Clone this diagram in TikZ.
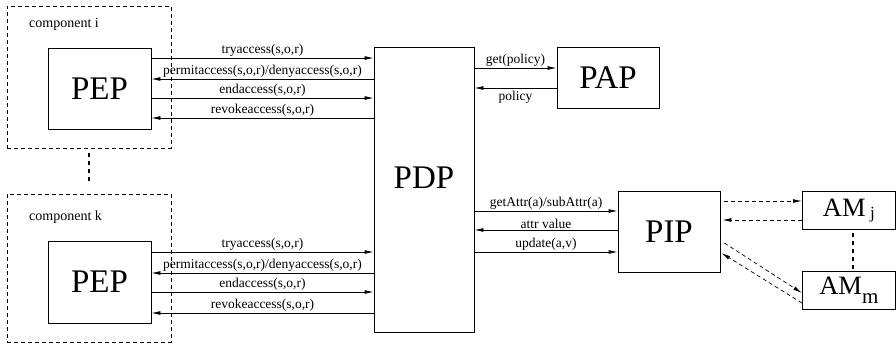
\documentclass[tikz,border=0pt]{standalone}
\usepackage{fontspec}
\setmainfont{Liberation Serif}
\usetikzlibrary{arrows.meta}
\begin{document}
\begin{tikzpicture}[x=1pt,y=-1pt,
  box/.style={draw,line width=0.7pt,inner sep=0pt,font=\fontsize{33}{33}\selectfont},
  comp/.style={draw,line width=0.7pt,dash pattern=on 4pt off 3pt,inner sep=0pt},
  msg/.style={line width=0.7pt,-{Latex[length=9pt,width=3.8pt]}},
  dmsg/.style={line width=0.7pt,dash pattern=on 4pt off 3pt,-{Latex[length=9pt,width=3.8pt]}},
  lbl/.style={font=\fontsize{13.5}{13.5}\selectfont,inner sep=1pt},
  cname/.style={font=\fontsize{14}{14}\selectfont,anchor=west,inner sep=0pt},
  dots/.style={line width=2.2pt,dash pattern=on 4pt off 4pt}]
\useasboundingbox (0,0) rectangle (896,345);

% components
\node[comp,minimum width=164pt,minimum height=142pt] (ci) at (89,77) {};
\node[comp,minimum width=164pt,minimum height=148pt] (ck) at (89,268) {};
\node[cname] (cil) at (29,24) {component i};
\node[cname] (ckl) at (29,217) {component k};
\draw[dots] (ci.south) ++(0,5) coordinate (d1) -- (ck.north |- 0,184) coordinate (d2);

% enforcement points
\node[box,minimum width=103pt,minimum height=81pt] (pepi) at (99.5,88.5) {PEP};
\node[box,minimum width=103pt,minimum height=82pt] (pepk) at (99.5,282) {PEP};

% decision, administration and information points
\node[box,minimum width=100pt,minimum height=285pt] (pdp) at (424,189.5) {};
\node[font=\fontsize{33}{33}\selectfont,inner sep=0pt] (pdpl) at (424,178) {PDP};
\node[box,minimum width=102pt,minimum height=61pt] (pap) at (608,77.5) {PAP};
\node[box,minimum width=102pt,minimum height=81pt] (pip) at (669,231.5) {PIP};

% attribute managers
\node[box,minimum width=93pt,minimum height=38pt,anchor=north west] (amj) at (802,191)
  {\fontsize{26.5}{26.5}\selectfont AM\,\raisebox{-2.5pt}{\fontsize{17}{17}\selectfont j}};
\node[box,minimum width=93pt,minimum height=38pt,anchor=north west] (amm) at (802,271)
  {\fontsize{26.5}{26.5}\selectfont AM\raisebox{-9pt}{\fontsize{21}{21}\selectfont m}};
\draw[dots] (amj.south -| 853,0) ++(0,3) -- (amm.north -| 853,0) ++(0,-7);

% PEP (component i) <-> PDP
\draw[msg] (pepi.east |- 0,58) -- node[lbl,above]{tryaccess(s,o,r)} (pdp.west |- 0,58);
\draw[msg] (pdp.west |- 0,79) -- node[lbl,above]{permitaccess(s,o,r)/denyaccess(s,o,r)} (pepi.east |- 0,79);
\draw[msg] (pepi.east |- 0,98) -- node[lbl,above]{endaccess(s,o,r)} (pdp.west |- 0,98);
\draw[msg] (pdp.west |- 0,118) -- node[lbl,above]{revokeaccess(s,o,r)} (pepi.east |- 0,118);

% PEP (component k) <-> PDP
\draw[msg] (pepk.east |- 0,252) -- node[lbl,above]{tryaccess(s,o,r)} (pdp.west |- 0,252);
\draw[msg] (pdp.west |- 0,273) -- node[lbl,above]{permitaccess(s,o,r)/denyaccess(s,o,r)} (pepk.east |- 0,273);
\draw[msg] (pepk.east |- 0,292) -- node[lbl,above]{endaccess(s,o,r)} (pdp.west |- 0,292);
\draw[msg] (pdp.west |- 0,313) -- node[lbl,above]{revokeaccess(s,o,r)} (pepk.east |- 0,313);

% PDP <-> PAP
\draw[msg] (pdp.east |- 0,68) -- node[lbl,above]{get(policy)} (pap.west |- 0,68);
\draw[msg] (pap.west |- 0,88) -- node[lbl,below,inner sep=3pt]{policy} (pdp.east |- 0,88);

% PDP <-> PIP
\draw[msg] (pdp.east |- 0,211) -- node[lbl,above]{getAttr(a)/subAttr(a)} (pip.west |- 0,211);
\draw[msg] (pip.west |- 0,230) -- node[lbl,above]{attr value} (pdp.east |- 0,230);
\draw[msg] (pdp.east |- 0,252) -- node[lbl,above]{update(a,v)} (pip.west |- 0,252);

% PIP <-> attribute managers
\draw[dmsg] ([xshift=4pt]pip.east |- 0,201) -- (amj.west |- 0,201);
\draw[dmsg] (amj.west |- 0,220) -- ([xshift=2pt]pip.east |- 0,220);
\draw[dmsg] ([xshift=4pt]pip.east |- 0,243) -- (amm.west |- 0,293);
\draw[dmsg] (amm.west |- 0,303) -- ([xshift=1pt]pip.east |- 0,253);
\end{tikzpicture}
\end{document}
